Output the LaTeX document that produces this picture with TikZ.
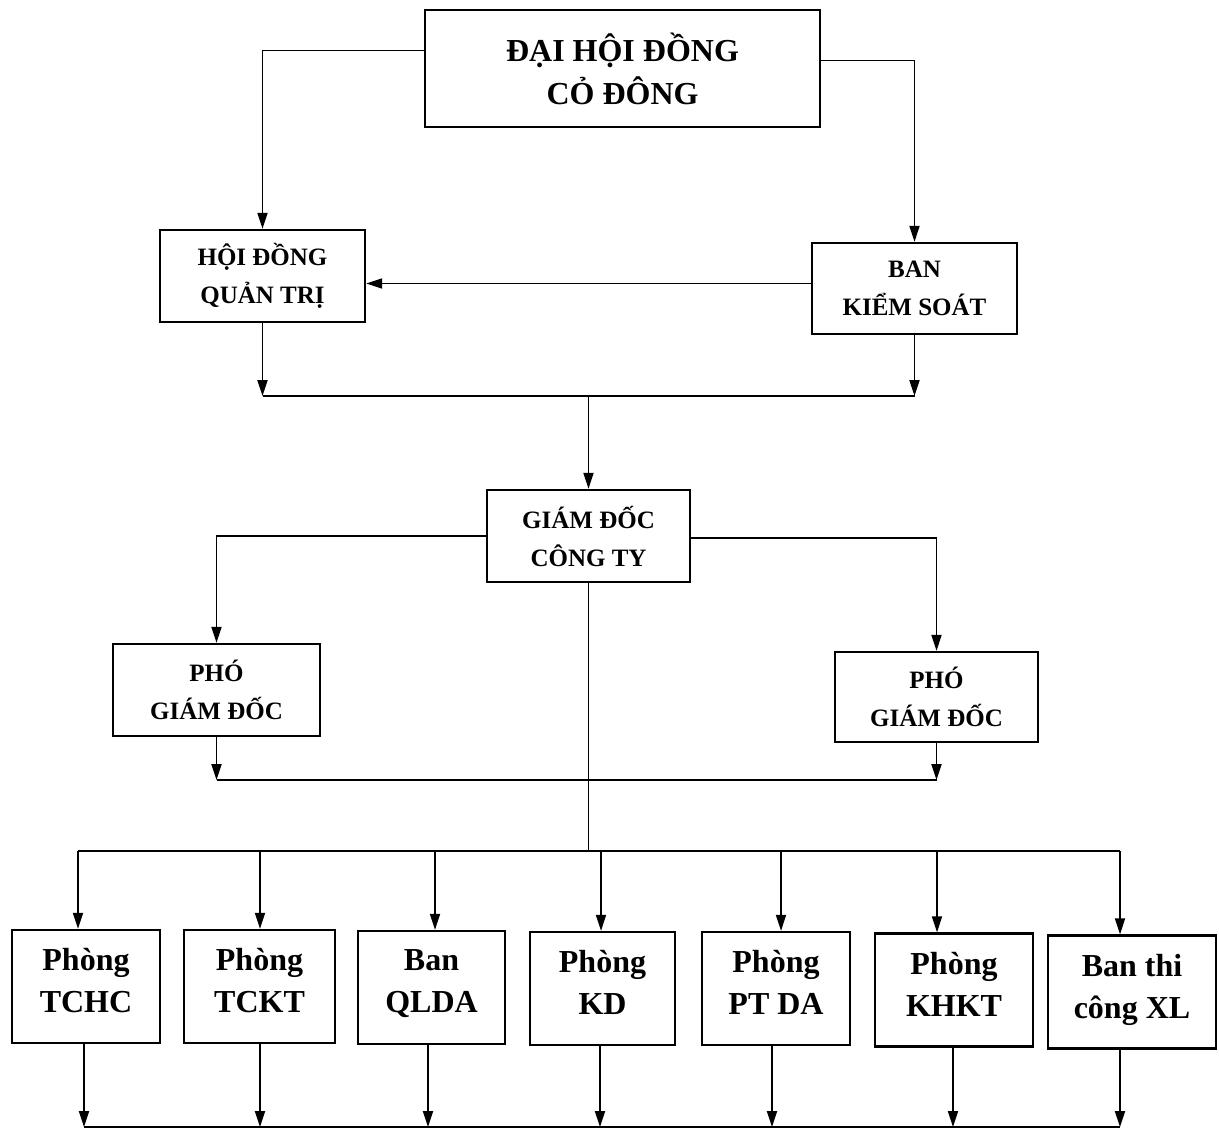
\documentclass[tikz,border=0pt]{standalone}
\usepackage{fontspec}
\setmainfont{Liberation Serif}
\usetikzlibrary{arrows.meta}
\begin{document}
\begin{tikzpicture}[x=1pt,y=-1pt,
  box/.style={draw, line width=2.2pt, inner sep=0pt, align=center},
  bigt/.style={font=\fontsize{32}{43}\selectfont\bfseries},
  midt/.style={font=\fontsize{25}{38}\selectfont\bfseries},
  dept/.style={box, font=\fontsize{32}{42}\selectfont\bfseries, minimum height=113pt},
  conn/.style={line width=1.8pt},
  arr/.style={conn, -{Triangle[length=16pt,width=10pt]}}]
\useasboundingbox (0,0) rectangle (1219,1133);

% boxes
\node[box,bigt,minimum width=395pt,minimum height=117pt] (dh) at (622.5,68.5) {ĐẠI HỘI ĐỒNG\\CỎ ĐÔNG};
\node[box,midt,minimum width=205pt,minimum height=92pt] (hd) at (262.5,276) {HỘI ĐỒNG\\QUẢN TRỊ};
\node[box,midt,minimum width=205pt,minimum height=91pt] (bks) at (914.5,288.5) {BAN\\KIỂM SOÁT};
\node[box,midt,minimum width=203pt,minimum height=92pt] (gd) at (588.5,536) {GIÁM ĐỐC\\CÔNG TY};
\node[box,midt,minimum width=207pt,minimum height=92pt] (p1) at (216.5,690) {PHÓ\\GIÁM ĐỐC};
\node[box,midt,minimum width=203pt,minimum height=90pt] (p2) at (936.5,697) {PHÓ\\GIÁM ĐỐC};

\node[dept,minimum width=148pt] (d1) at (86,986.5) {Phòng\\TCHC\\[-30pt]};
\node[dept,minimum width=151pt] (d2) at (259.5,986.5) {Phòng\\TCKT\\[-30pt]};
\node[dept,minimum width=147pt] (d3) at (431.5,987.5) {Ban\\QLDA\\[-30pt]};
\node[dept,minimum width=145pt] (d4) at (602.5,988.5) {Phòng\\KD\\[-30pt]};
\node[dept,minimum width=148pt] (d5) at (776,988.5) {Phòng\\PT DA\\[-30pt]};
\node[dept,minimum width=158pt] (d6) at (954,990) {Phòng\\KHKT\\[-30pt]};
\node[dept,minimum width=168pt] (d7) at (1132,992) {Ban thi\\công XL\\[-30pt]};

% top connectors
\draw[arr] ([yshift=18pt]dh.west) -| (hd);
\draw[arr] ([yshift=8pt]dh.east) -| (bks);
\draw[arr] ([yshift=5pt]bks.west) -- ([yshift=5pt]bks.west -| hd.east);

\coordinate (m1) at (588.5,396);
\draw[arr] (hd.south) -- (hd.south |- m1);
\draw[arr] (bks.south) -- (bks.south |- m1);
\draw[conn] (hd.south |- m1) -- (bks.south |- m1);
\draw[arr] (m1) -- (gd);

% director connectors
\draw[arr] (gd.west) -| (p1);
\draw[arr] ([yshift=-2pt]gd.east) -| (p2);
\coordinate (m2) at (588.5,780);
\draw[arr] (p1.south) -- (p1.south |- m2);
\draw[arr] (p2.south) -- (p2.south |- m2);
\draw[conn] (p1.south |- m2) -- (p2.south |- m2);

% bus to departments
\coordinate (bus) at (588.5,851);
\draw[conn] (gd.south) -- (bus);
\coordinate (t1) at (78,851);
\coordinate (t2) at (260,851);
\coordinate (t3) at (435,851);
\coordinate (t4) at (601,851);
\coordinate (t5) at (781,851);
\coordinate (t6) at (937,851);
\coordinate (t7) at (1120,851);
\draw[conn] (t1) -- (t7);
\foreach \i in {1,...,7} {\draw[arr] (t\i) -- (t\i |- d\i.north);}

% departments to bottom line
\coordinate (b1) at (84,1127);
\coordinate (b2) at (260,1127);
\coordinate (b3) at (428,1127);
\coordinate (b4) at (600,1127);
\coordinate (b5) at (772,1127);
\coordinate (b6) at (953,1127);
\coordinate (b7) at (1120,1127);
\foreach \i in {1,...,7} {\draw[arr] (b\i |- d\i.south) -- (b\i);}
\draw[conn] (b1) -- (b7);
\end{tikzpicture}
\end{document}
